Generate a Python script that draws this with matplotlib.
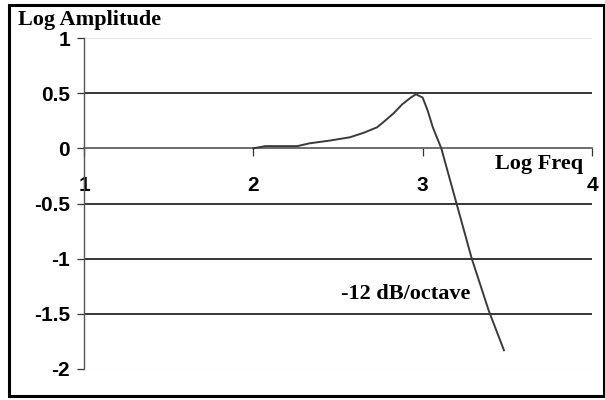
import matplotlib
matplotlib.use("Agg")
import matplotlib.pyplot as plt
from matplotlib.patches import Rectangle

# filter response: log amplitude against log frequency
log_freq = [2.0, 2.07, 2.26, 2.33, 2.45, 2.57, 2.65, 2.73, 2.77, 2.83, 2.88,
            2.93, 2.96, 3.0, 3.03, 3.06, 3.11, 3.20, 3.29, 3.39, 3.48]
log_amp = [0.0, 0.02, 0.02, 0.045, 0.07, 0.10, 0.14, 0.19, 0.24, 0.32, 0.40,
           0.46, 0.49, 0.46, 0.34, 0.19, 0.0, -0.5, -1.0, -1.47, -1.83]

x_ticks = [1, 2, 3, 4]
y_ticks = [1, 0.5, 0, -0.5, -1, -1.5, -2]
y_tick_labels = ["1", "0.5", "0", "-0.5", "-1", "-1.5", "-2"]

W, H = 605, 400
fig = plt.figure(figsize=(W / 100, H / 100), dpi=100)
ax = fig.add_axes([84 / W, 1 - 369 / H, (592 - 84) / W, (369 - 38) / H])

ax.set_xlim(1, 4)
ax.set_ylim(-2, 1)

# horizontal grid
for y in [0.5, -0.5, -1, -1.5]:
    ax.axhline(y, color="black", lw=1.1, zorder=1)
for y in [1, -2]:
    ax.axhline(y, color="#e6e6e6", lw=0.8, zorder=1)

ax.plot(log_freq, log_amp, color="#3a3a3a", lw=1.4, zorder=3)

for s in ["top", "right"]:
    ax.spines[s].set_visible(False)
ax.spines["left"].set_color("#555555")
ax.spines["left"].set_linewidth(1.0)
ax.spines["bottom"].set_position(("data", 0))
ax.spines["bottom"].set_color("#555555")
ax.spines["bottom"].set_linewidth(1.2)

bold_sans = dict(family="Liberation Sans", weight="bold", size=15)
ax.set_xticks(x_ticks)
ax.set_xticklabels([str(v) for v in x_ticks], fontdict=bold_sans)
ax.set_yticks(y_ticks)
ax.set_yticklabels(y_tick_labels, fontdict=bold_sans)
ax.tick_params(axis="x", direction="out", length=6, width=0.9, pad=14, color="#333333")
ax.tick_params(axis="y", direction="out", length=5, width=0.9, pad=5, color="#333333")

serif_bold = dict(family="Liberation Serif", weight="bold")
ax.text(3.69, -0.145, "Log Freq", ha="center", va="center", fontsize=16, **serif_bold)
ax.text(2.90, -1.32, "-12 dB/octave", ha="center", va="center", fontsize=16, **serif_bold)
fig.text(18 / W, 1 - 20 / H, "Log Amplitude", ha="left", va="center", fontsize=16, **serif_bold)

# outer frame
fig.patches.append(Rectangle((9 / W, 4 / H), 595 / W, 391 / H, transform=fig.transFigure,
                             fill=False, edgecolor="black", lw=2.2))

fig.savefig("out.png", dpi=100)
